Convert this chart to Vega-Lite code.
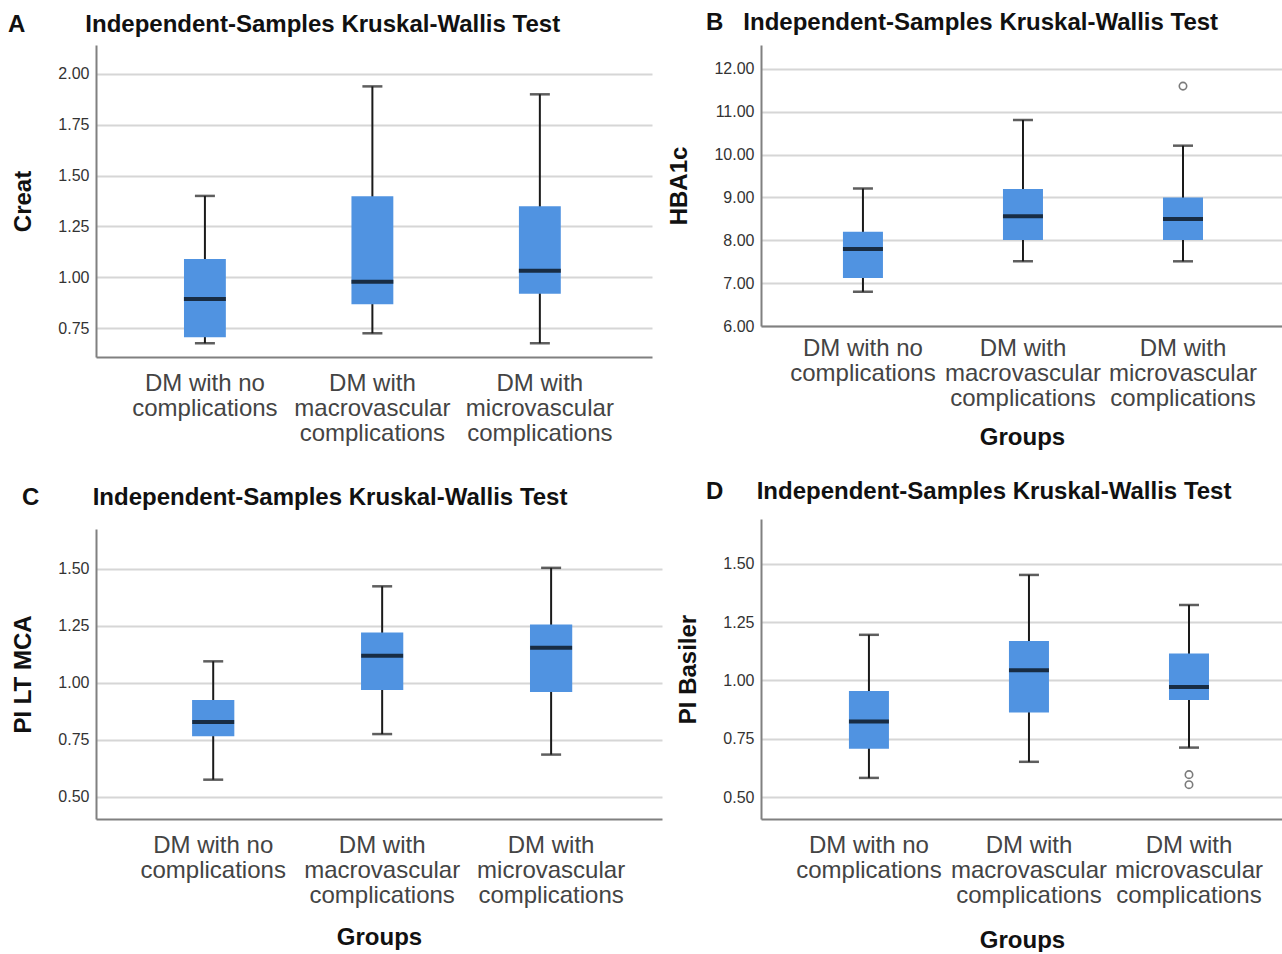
{
  "$schema": "https://vega.github.io/schema/vega-lite/v6.json",
  "background": "white",
  "padding": {"left": 8, "top": 11, "right": 0, "bottom": 0},
  "datasets": {
    "stats": [
      {"panel": "A", "group": "DM with no complications", "lo": 0.675, "q1": 0.704, "med": 0.893, "q3": 1.09, "hi": 1.40},
      {"panel": "A", "group": "DM with macrovascular complications", "lo": 0.724, "q1": 0.867, "med": 0.978, "q3": 1.398, "hi": 1.939},
      {"panel": "A", "group": "DM with microvascular complications", "lo": 0.675, "q1": 0.919, "med": 1.032, "q3": 1.349, "hi": 1.90},
      {"panel": "B", "group": "DM with no complications", "lo": 6.80, "q1": 7.12, "med": 7.80, "q3": 8.20, "hi": 9.21},
      {"panel": "B", "group": "DM with macrovascular complications", "lo": 7.51, "q1": 8.01, "med": 8.56, "q3": 9.20, "hi": 10.81},
      {"panel": "B", "group": "DM with microvascular complications", "lo": 7.51, "q1": 8.01, "med": 8.50, "q3": 9.00, "hi": 10.21},
      {"panel": "C", "group": "DM with no complications", "lo": 0.576, "q1": 0.766, "med": 0.829, "q3": 0.925, "hi": 1.095},
      {"panel": "C", "group": "DM with macrovascular complications", "lo": 0.776, "q1": 0.969, "med": 1.12, "q3": 1.222, "hi": 1.424},
      {"panel": "C", "group": "DM with microvascular complications", "lo": 0.686, "q1": 0.96, "med": 1.155, "q3": 1.257, "hi": 1.505},
      {"panel": "D", "group": "DM with no complications", "lo": 0.582, "q1": 0.707, "med": 0.824, "q3": 0.955, "hi": 1.196},
      {"panel": "D", "group": "DM with macrovascular complications", "lo": 0.651, "q1": 0.863, "med": 1.044, "q3": 1.169, "hi": 1.453},
      {"panel": "D", "group": "DM with microvascular complications", "lo": 0.712, "q1": 0.916, "med": 0.972, "q3": 1.116, "hi": 1.324}
    ],
    "outliers": [
      {"panel": "B", "group": "DM with microvascular complications", "value": 11.6},
      {"panel": "D", "group": "DM with microvascular complications", "value": 0.596},
      {"panel": "D", "group": "DM with microvascular complications", "value": 0.553}
    ]
  },
  "hconcat": [
    {
      "vconcat": [
        {
          "width": 556, "height": 312,
          "title": {"text": "A\u00a0\u00a0\u00a0\u00a0\u00a0\u00a0\u00a0\u00a0\u00a0Independent-Samples Kruskal-Wallis Test", "dx": -88, "offset": 8},
          "data": {"name": "stats"},
          "transform": [{"filter": "datum.panel == 'A'"}],
          "encoding": {
            "x": {"field": "group", "type": "nominal", "title": null,
              "sort": ["DM with no complications", "DM with macrovascular complications", "DM with microvascular complications"],
              "scale": {"paddingInner": 0.75, "paddingOuter": 0.535, "align": 0.491}}
          },
          "layer": [
            {"mark": {"type": "rule", "color": "#1a1a1a", "strokeWidth": 2},
             "encoding": {"y": {"field": "lo", "type": "quantitative", "title": "Creat",
               "scale": {"domain": [0.6073, 2.1427], "nice": false, "zero": false},
               "axis": {"values": [0.75, 1.0, 1.25, 1.5, 1.75, 2.0], "format": ".2f"}},
               "y2": {"field": "hi"}}},
            {"mark": {"type": "bar", "color": "#5093e1"},
             "encoding": {"y": {"field": "q1", "type": "quantitative", "title": "Creat"}, "y2": {"field": "q3"}}},
            {"mark": {"type": "tick", "color": "#000000", "thickness": 4, "size": 42},
             "encoding": {"y": {"field": "med", "type": "quantitative", "title": "Creat"}}},
            {"mark": {"type": "tick", "color": "#1a1a1a", "thickness": 2.5, "size": 20},
             "encoding": {"y": {"field": "lo", "type": "quantitative", "title": "Creat"}}},
            {"mark": {"type": "tick", "color": "#1a1a1a", "thickness": 2.5, "size": 20},
             "encoding": {"y": {"field": "hi", "type": "quantitative", "title": "Creat"}}}
          ]
        },
        {
          "width": 566, "height": 290,
          "title": {"text": "C\u00a0\u00a0\u00a0\u00a0\u00a0\u00a0\u00a0\u00a0Independent-Samples Kruskal-Wallis Test", "dx": -74, "offset": 19},
          "data": {"name": "stats"},
          "transform": [{"filter": "datum.panel == 'C'"}],
          "encoding": {
            "x": {"field": "group", "type": "nominal", "title": "Groups",
              "sort": ["DM with no complications", "DM with macrovascular complications", "DM with microvascular complications"],
              "scale": {"paddingInner": 0.75, "paddingOuter": 0.55, "align": 0.517}}
          },
          "layer": [
            {"mark": {"type": "rule", "color": "#1a1a1a", "strokeWidth": 2},
             "encoding": {"y": {"field": "lo", "type": "quantitative", "title": "PI LT MCA",
               "scale": {"domain": [0.4035, 1.6754], "nice": false, "zero": false},
               "axis": {"values": [0.5, 0.75, 1.0, 1.25, 1.5], "format": ".2f"}},
               "y2": {"field": "hi"}}},
            {"mark": {"type": "bar", "color": "#5093e1"},
             "encoding": {"y": {"field": "q1", "type": "quantitative", "title": "PI LT MCA"}, "y2": {"field": "q3"}}},
            {"mark": {"type": "tick", "color": "#000000", "thickness": 4, "size": 42},
             "encoding": {"y": {"field": "med", "type": "quantitative", "title": "PI LT MCA"}}},
            {"mark": {"type": "tick", "color": "#1a1a1a", "thickness": 2.5, "size": 20},
             "encoding": {"y": {"field": "lo", "type": "quantitative", "title": "PI LT MCA"}}},
            {"mark": {"type": "tick", "color": "#1a1a1a", "thickness": 2.5, "size": 20},
             "encoding": {"y": {"field": "hi", "type": "quantitative", "title": "PI LT MCA"}}}
          ]
        }
      ],
      "spacing": 172,
      "bounds": "flush"
    },
    {
      "vconcat": [
        {
          "width": 522, "height": 281,
          "title": {"text": "B\u00a0\u00a0\u00a0Independent-Samples Kruskal-Wallis Test", "dx": -55, "offset": 10},
          "encoding": {
            "x": {"field": "group", "type": "nominal", "title": "Groups",
              "sort": ["DM with no complications", "DM with macrovascular complications", "DM with microvascular complications"],
              "scale": {"paddingInner": 0.75, "paddingOuter": 0.506, "align": 0.506},
              "axis": {"labelPadding": 10, "titlePadding": 15}}
          },
          "layer": [
            {"data": {"name": "stats"}, "transform": [{"filter": "datum.panel == 'B'"}],
             "mark": {"type": "rule", "color": "#1a1a1a", "strokeWidth": 2},
             "encoding": {"y": {"field": "lo", "type": "quantitative", "title": "HBA1c",
               "scale": {"domain": [6.0, 12.56], "nice": false, "zero": false},
               "axis": {"values": [6, 7, 8, 9, 10, 11, 12], "format": ".2f"}},
               "y2": {"field": "hi"}}},
            {"data": {"name": "stats"}, "transform": [{"filter": "datum.panel == 'B'"}],
             "mark": {"type": "bar", "color": "#5093e1"},
             "encoding": {"y": {"field": "q1", "type": "quantitative", "title": "HBA1c"}, "y2": {"field": "q3"}}},
            {"data": {"name": "stats"}, "transform": [{"filter": "datum.panel == 'B'"}],
             "mark": {"type": "tick", "color": "#000000", "thickness": 4, "size": 40},
             "encoding": {"y": {"field": "med", "type": "quantitative", "title": "HBA1c"}}},
            {"data": {"name": "stats"}, "transform": [{"filter": "datum.panel == 'B'"}],
             "mark": {"type": "tick", "color": "#1a1a1a", "thickness": 2.5, "size": 20},
             "encoding": {"y": {"field": "lo", "type": "quantitative", "title": "HBA1c"}}},
            {"data": {"name": "stats"}, "transform": [{"filter": "datum.panel == 'B'"}],
             "mark": {"type": "tick", "color": "#1a1a1a", "thickness": 2.5, "size": 20},
             "encoding": {"y": {"field": "hi", "type": "quantitative", "title": "HBA1c"}}},
            {"data": {"name": "outliers"}, "transform": [{"filter": "datum.panel == 'B'"}],
             "mark": {"type": "point", "shape": "circle", "filled": false, "color": "#444444", "strokeWidth": 1.6, "size": 55},
             "encoding": {"y": {"field": "value", "type": "quantitative", "title": "HBA1c"}}}
          ]
        },
        {
          "width": 522, "height": 300,
          "title": {"text": "D\u00a0\u00a0\u00a0\u00a0\u00a0Independent-Samples Kruskal-Wallis Test", "dx": -55, "offset": 15},
          "encoding": {
            "x": {"field": "group", "type": "nominal", "title": "Groups",
              "sort": ["DM with no complications", "DM with macrovascular complications", "DM with microvascular complications"],
              "scale": {"paddingInner": 0.75, "paddingOuter": 0.506, "align": 0.543},
              "axis": {"titlePadding": 21}}
          },
          "layer": [
            {"data": {"name": "stats"}, "transform": [{"filter": "datum.panel == 'D'"}],
             "mark": {"type": "rule", "color": "#1a1a1a", "strokeWidth": 2},
             "encoding": {"y": {"field": "lo", "type": "quantitative", "title": "PI Basiler",
               "scale": {"domain": [0.4056, 1.693], "nice": false, "zero": false},
               "axis": {"values": [0.5, 0.75, 1.0, 1.25, 1.5], "format": ".2f"}},
               "y2": {"field": "hi"}}},
            {"data": {"name": "stats"}, "transform": [{"filter": "datum.panel == 'D'"}],
             "mark": {"type": "bar", "color": "#5093e1"},
             "encoding": {"y": {"field": "q1", "type": "quantitative", "title": "PI Basiler"}, "y2": {"field": "q3"}}},
            {"data": {"name": "stats"}, "transform": [{"filter": "datum.panel == 'D'"}],
             "mark": {"type": "tick", "color": "#000000", "thickness": 4, "size": 40},
             "encoding": {"y": {"field": "med", "type": "quantitative", "title": "PI Basiler"}}},
            {"data": {"name": "stats"}, "transform": [{"filter": "datum.panel == 'D'"}],
             "mark": {"type": "tick", "color": "#1a1a1a", "thickness": 2.5, "size": 20},
             "encoding": {"y": {"field": "lo", "type": "quantitative", "title": "PI Basiler"}}},
            {"data": {"name": "stats"}, "transform": [{"filter": "datum.panel == 'D'"}],
             "mark": {"type": "tick", "color": "#1a1a1a", "thickness": 2.5, "size": 20},
             "encoding": {"y": {"field": "hi", "type": "quantitative", "title": "PI Basiler"}}},
            {"data": {"name": "outliers"}, "transform": [{"filter": "datum.panel == 'D'"}],
             "mark": {"type": "point", "shape": "circle", "filled": false, "color": "#444444", "strokeWidth": 1.6, "size": 55},
             "encoding": {"y": {"field": "value", "type": "quantitative", "title": "PI Basiler"}}}
          ]
        }
      ],
      "spacing": 193,
      "bounds": "flush"
    }
  ],
  "spacing": 5,
  "config": {
    "font": "Liberation Sans",
    "view": {"stroke": null},
    "title": {"anchor": "start", "frame": "group", "font": "Liberation Sans", "fontSize": 24, "fontWeight": "bold", "color": "#111111"},
    "axisY": {
      "domain": true, "domainColor": "#808080", "domainWidth": 2,
      "grid": true, "gridColor": "#d6d6d6", "gridWidth": 2,
      "ticks": false, "labelPadding": 7, "labelFontSize": 16, "labelColor": "#333333", "labelFont": "Liberation Sans",
      "titleFont": "Liberation Sans", "titleFontSize": 24, "titleFontWeight": "bold", "titleColor": "#111111", "titlePadding": 22
    },
    "axisX": {
      "domain": true, "domainColor": "#808080", "domainWidth": 2, "grid": false, "ticks": false,
      "labelAngle": 0, "labelPadding": 14, "labelFontSize": 24, "labelColor": "#444444", "labelFont": "Liberation Sans", "labelLineHeight": 25,
      "labelExpr": "datum.value == 'DM with no complications' ? ['DM with no', 'complications'] : datum.value == 'DM with macrovascular complications' ? ['DM with', 'macrovascular', 'complications'] : ['DM with', 'microvascular', 'complications']",
      "titleFont": "Liberation Sans", "titleFontSize": 24, "titleFontWeight": "bold", "titleColor": "#111111", "titlePadding": 18
    }
  }
}
